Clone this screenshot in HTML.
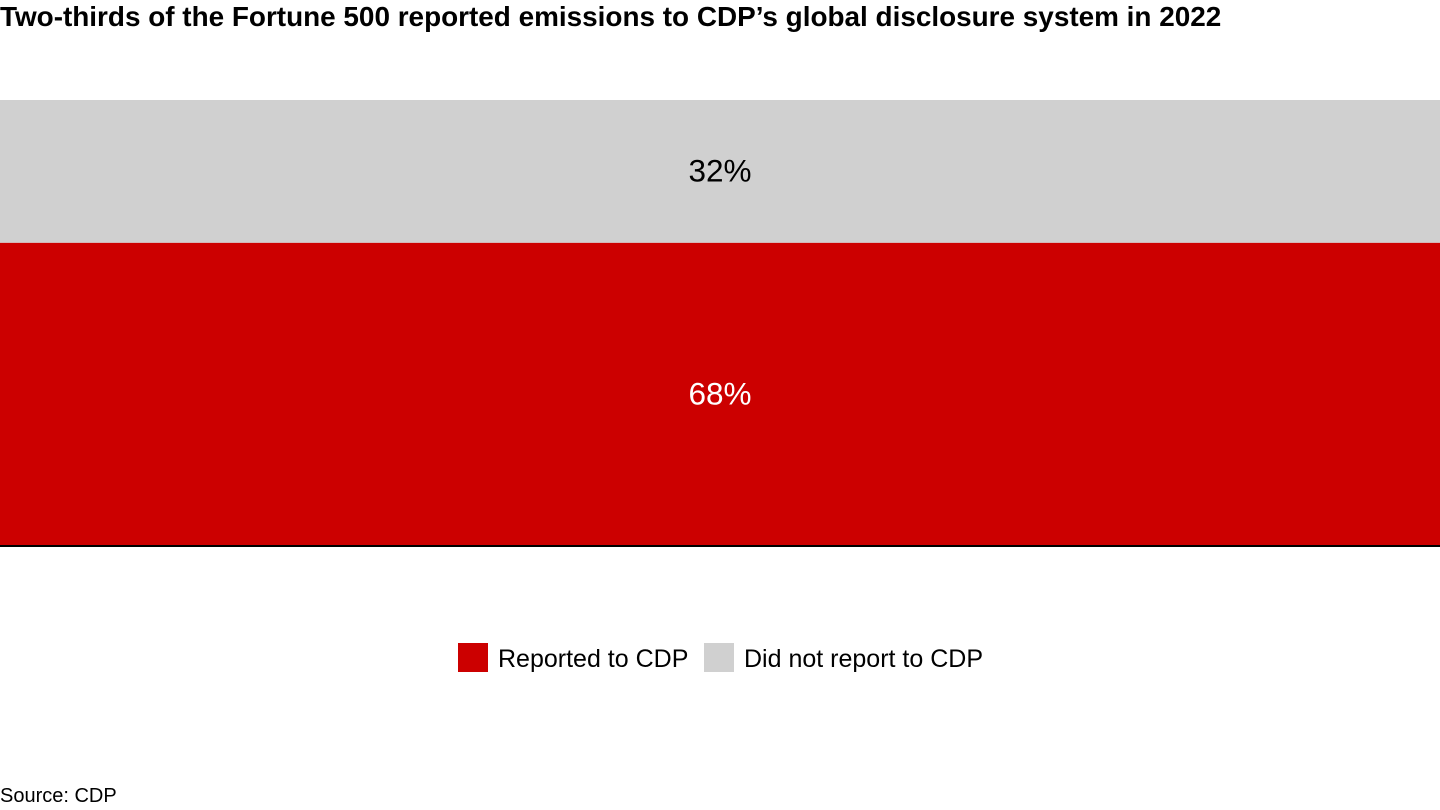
<!DOCTYPE html>
<html><head><meta charset="utf-8"><style>
body{margin:0;width:1440px;height:810px;background:#fff;font-family:"Liberation Sans",Arial,sans-serif;overflow:hidden;position:relative}
.t{position:absolute;white-space:nowrap}
</style></head><body>
<div class="t" style="left:0;top:1px;font-size:27.9px;font-weight:bold;color:#000">Two-thirds of the Fortune 500 reported emissions to CDP’s global disclosure system in 2022</div>
<svg id="chart" width="1440" height="810" style="position:absolute;left:0;top:0"></svg>
<div class="t" style="left:458px;top:643px;width:30px;height:29px;background:#cc0000"></div>
<div class="t" style="left:498px;top:645px;font-size:25px">Reported to CDP</div>
<div class="t" style="left:704px;top:643px;width:30px;height:29px;background:#d0d0d0"></div>
<div class="t" style="left:744px;top:645px;font-size:25px">Did not report to CDP</div>
<div class="t" style="left:0;top:785px;font-size:20px">Source: CDP</div>
<script>
const categories=["Reported to CDP","Did not report to CDP"];
const values=[68,32];
const labels=["68%","32%"];
const colors=["#cc0000","#d0d0d0"];
const textColors=["#fff","#000"];
const svg=document.getElementById('chart');
const NS='http://www.w3.org/2000/svg';
const y0=546,y1=100;
const total=values.reduce((a,b)=>a+b,0);
const yScale=v=>y0-(v/total)*(y0-y1);
let cum=0;
values.forEach((v,i)=>{
  const top=yScale(cum+v),bot=yScale(cum);
  const r=document.createElementNS(NS,'rect');
  r.setAttribute('x',0);r.setAttribute('y',top);r.setAttribute('width',1440);r.setAttribute('height',bot-top);r.setAttribute('fill',colors[i]);
  
  
  svg.appendChild(r);
  const t=document.createElementNS(NS,'text');
  t.setAttribute('x',720);t.setAttribute('y',(top+bot)/2+10);t.setAttribute('text-anchor','middle');
  t.setAttribute('font-size','31.5');t.setAttribute('fill',textColors[i]);t.setAttribute('font-family','Liberation Sans, Arial, sans-serif');
  t.textContent=labels[i];
  
  
  svg.appendChild(t);
  cum+=v;
});
const l=document.createElementNS(NS,'line');
l.setAttribute('x1',0);l.setAttribute('x2',1440);l.setAttribute('y1',y0);l.setAttribute('y2',y0);l.setAttribute('stroke','#000');l.setAttribute('stroke-width','2');


svg.appendChild(l);
</script>
</body></html>
